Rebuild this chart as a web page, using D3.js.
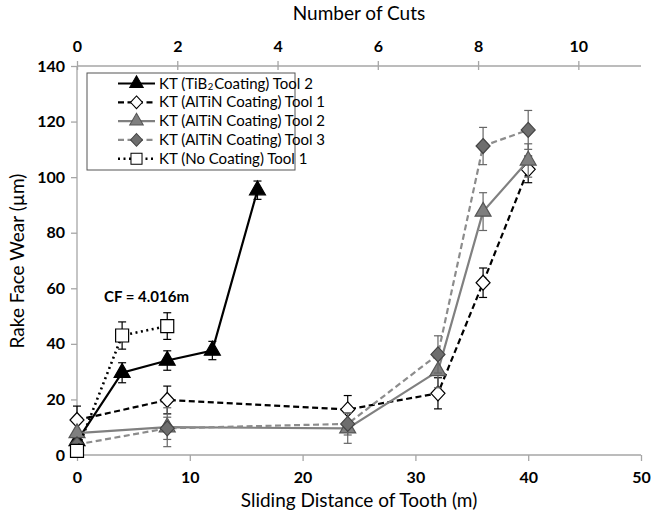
<!DOCTYPE html>
<html>
<head>
<meta charset="utf-8">
<script src="https://cdn.jsdelivr.net/npm/d3@7"></script>
<style>
  html, body { margin: 0; padding: 0; background: #fff; }
  svg { display: block; font-family: Lato, "Open Sans", sans-serif; }
</style>
</head>
<body>
<svg id="chart" width="651" height="520"></svg>
<script>
// Sliding distance (m) and rake face wear (µm) with ± error for each tool
const tib2Tool2X   = [0, 4, 8, 12, 16];
const tib2Tool2Y   = [5, 29.6, 34, 37.6, 95.3];
const tib2Tool2Err = [0, 3.6, 3.5, 3.3, 3.3];

const altinTool1X   = [0, 8, 24, 32, 36, 40];
const altinTool1Y   = [12.6, 19.8, 16.4, 22.2, 62, 102.8];
const altinTool1Err = [5, 5, 5, 5.6, 5.3, 4.8];

const altinTool2X   = [0, 8, 24, 32, 36, 40];
const altinTool2Y   = [7.9, 10, 9.6, 30.2, 87.6, 106];
const altinTool2Err = [0, 7, 5.4, 6, 6.8, 6];

const altinTool3X   = [0, 8, 24, 32, 36, 40];
const altinTool3Y   = [3.8, 9.6, 11.2, 36.2, 111.2, 117];
const altinTool3Err = [0, 4, 4, 6.7, 6.7, 7];

const noCoatTool1X   = [0, 4, 8];
const noCoatTool1Y   = [1.5, 43, 46.4];
const noCoatTool1Err = [0, 4.9, 4.8];

const xTicks    = [0, 10, 20, 30, 40, 50];
const cutTicks  = [0, 2, 4, 6, 8, 10];
const yTicks    = [0, 20, 40, 60, 80, 100, 120, 140];
const metresPerCut = 40 / 9;

const series = [
  { name: "KT (TiB", sub: "2", rest: "Coating) Tool 2", xs: tib2Tool2X, ys: tib2Tool2Y, err: tib2Tool2Err,
    stroke: "#000", dash: null, width: 2.2, marker: "triangle", fill: "#000", mstroke: "#000", ebar: "#000" },
  { name: "KT (AlTiN Coating) Tool 1", xs: altinTool1X, ys: altinTool1Y, err: altinTool1Err,
    stroke: "#000", dash: "6,3.5", width: 2.2, marker: "diamond", fill: "#fff", mstroke: "#000", ebar: "#000" },
  { name: "KT (AlTiN Coating) Tool 2", xs: altinTool2X, ys: altinTool2Y, err: altinTool2Err,
    stroke: "#808080", dash: null, width: 2.2, marker: "triangle", fill: "#7f7f7f", mstroke: "#555", ebar: "#666" },
  { name: "KT (AlTiN Coating) Tool 3", xs: altinTool3X, ys: altinTool3Y, err: altinTool3Err,
    stroke: "#8c8c8c", dash: "6,3.5", width: 2.2, marker: "diamond", fill: "#6e6e6e", mstroke: "#444", ebar: "#666" },
  { name: "KT (No Coating) Tool 1", xs: noCoatTool1X, ys: noCoatTool1Y, err: noCoatTool1Err,
    stroke: "#000", dash: "2,3.5", width: 2.6, marker: "square", fill: "#fff", mstroke: "#000", ebar: "#000" }
];

const svg = d3.select("#chart");
const x = d3.scaleLinear().domain([0, 50]).range([77, 641]);
const xCut = d3.scaleLinear().domain([0, 50 / metresPerCut]).range([77, 641]);
const y = d3.scaleLinear().domain([0, 140]).range([455, 66]);

const axisColor = "#a6a6a6";

// Bottom axis
const gx = svg.append("g").attr("transform", `translate(0,${y(0)})`)
  .call(d3.axisBottom(x).tickValues(xTicks).tickSize(6).tickPadding(11));
// Top axis (number of cuts)
const gt = svg.append("g").attr("transform", `translate(0,${y(140)})`)
  .call(d3.axisTop(xCut).tickValues(cutTicks).tickSize(5).tickPadding(9));
gt.selectAll(".tick line").attr("y2", -5).attr("y1", 4);
// Left axis
const gy = svg.append("g").attr("transform", `translate(${x(0)},0)`)
  .call(d3.axisLeft(y).tickValues(yTicks).tickSize(6).tickPadding(6));

[gx, gt, gy].forEach(g => {
  g.select(".domain").attr("stroke", axisColor).attr("stroke-width", 1.3);
  g.selectAll(".tick line").attr("stroke", axisColor).attr("stroke-width", 1.3);
  g.selectAll(".tick text").attr("fill", "#000").attr("font-size", 16)
    .attr("font-weight", "bold").attr("font-family", "Lato, 'Open Sans', sans-serif");
});
gx.select(".domain").attr("d", `M${x(0)},0H${x(50)}`);
gt.select(".domain").attr("d", `M${x(0)},0H${x(50)}`);
gy.select(".domain").attr("d", `M0,${y(0)}V${y(140)}`);

// Axis titles
svg.append("text").attr("x", 359).attr("y", 507).attr("text-anchor", "middle")
  .attr("font-size", 19).text("Sliding Distance of Tooth (m)");
svg.append("text").attr("x", 359).attr("y", 20).attr("text-anchor", "middle")
  .attr("font-size", 19).text("Number of Cuts");
svg.append("text").attr("transform", "translate(24,261) rotate(-90)").attr("text-anchor", "middle")
  .attr("font-size", 19).text("Rake Face Wear (µm)");

// Marker shapes
function markerPath(type) {
  if (type === "triangle") return d3.symbol(d3.symbolTriangle, 110)();
  if (type === "diamond") return "M0,-7.5L7,0L0,7.5L-7,0Z";
  return "M-6.5,-6.5H6.5V6.5H-6.5Z";
}

const plot = svg.append("g");

series.forEach(s => {
  const pts = s.xs.map((v, i) => ({ x: v, y: s.ys[i], e: s.err[i] }));
  const g = plot.append("g");
  g.append("path").datum(pts)
    .attr("fill", "none").attr("stroke", s.stroke).attr("stroke-width", s.width)
    .attr("stroke-dasharray", s.dash)
    .attr("d", d3.line().x(d => x(d.x)).y(d => y(d.y)));
  // Error bars
  const eb = g.selectAll(".eb").data(pts.filter(d => d.e > 0)).enter().append("g")
    .attr("stroke", s.ebar).attr("stroke-width", 1.2);
  eb.append("line").attr("x1", d => x(d.x)).attr("x2", d => x(d.x))
    .attr("y1", d => y(d.y + d.e)).attr("y2", d => y(d.y - d.e));
  eb.append("line").attr("x1", d => x(d.x) - 4).attr("x2", d => x(d.x) + 4)
    .attr("y1", d => y(d.y + d.e)).attr("y2", d => y(d.y + d.e));
  eb.append("line").attr("x1", d => x(d.x) - 4).attr("x2", d => x(d.x) + 4)
    .attr("y1", d => y(d.y - d.e)).attr("y2", d => y(d.y - d.e));
  // Markers
  g.selectAll(".m").data(pts).enter().append("path")
    .attr("d", markerPath(s.marker))
    .attr("transform", d => `translate(${x(d.x)},${y(d.y)})`)
    .attr("fill", s.fill).attr("stroke", s.mstroke).attr("stroke-width", 1.2);
});

// Critical flank wear note
svg.append("text").attr("x", 104).attr("y", 302).attr("font-size", 15)
  .attr("font-weight", "bold").text("CF = 4.016m");

// Legend
const legend = svg.append("g");
legend.append("rect").attr("x", 87).attr("y", 73).attr("width", 208).attr("height", 97)
  .attr("fill", "#fff").attr("stroke", "#555").attr("stroke-width", 1);
series.forEach((s, i) => {
  const ly = 83.5 + i * 18.8;
  const row = legend.append("g");
  row.append("line").attr("x1", 118).attr("x2", 155).attr("y1", ly).attr("y2", ly)
    .attr("stroke", s.stroke).attr("stroke-width", s.width).attr("stroke-dasharray", s.dash);
  row.append("path").attr("d", markerPath(s.marker))
    .attr("transform", `translate(136.5,${ly}) scale(0.85)`)
    .attr("fill", s.fill).attr("stroke", s.mstroke).attr("stroke-width", 1.2);
  const t = row.append("text").attr("x", 159).attr("y", ly + 5).attr("font-size", 15).text(s.name);
  if (s.sub) {
    // Subscript and remainder placed as their own labels after the measured lead text
    let cx = 159 + t.node().getComputedTextLength() + 0.5;
    const sb = row.append("text").attr("x", cx).attr("y", ly + 6).attr("font-size", 9.5).text(s.sub);
    cx += sb.node().getComputedTextLength() + 1;
    row.append("text").attr("x", cx).attr("y", ly + 5).attr("font-size", 15).text(s.rest);
  }
});
</script>
</body>
</html>
